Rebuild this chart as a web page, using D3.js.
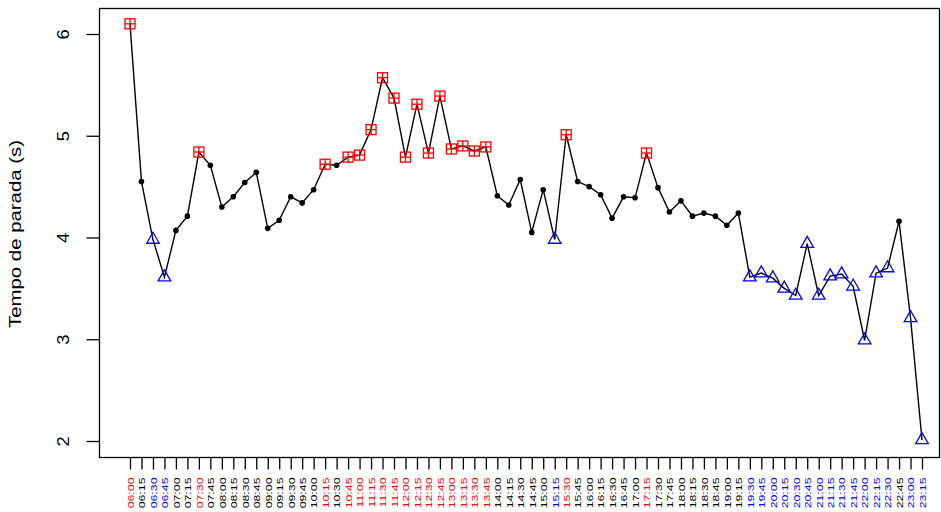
<!DOCTYPE html>
<html>
<head>
<meta charset="utf-8">
<script src="https://cdn.jsdelivr.net/npm/d3@7"></script>
<style>
  html, body { margin: 0; padding: 0; background: #fff; }
  svg { display: block; }
  text { font-family: "Liberation Sans", Arial, sans-serif; }
</style>
</head>
<body>
<svg id="chart" width="941" height="512"></svg>
<script>
// Time of day (every 15 minutes)
const times = [
  "06:00","06:15","06:30","06:45","07:00","07:15","07:30","07:45",
  "08:00","08:15","08:30","08:45","09:00","09:15","09:30","09:45",
  "10:00","10:15","10:30","10:45","11:00","11:15","11:30","11:45",
  "12:00","12:15","12:30","12:45","13:00","13:15","13:30","13:45",
  "14:00","14:15","14:30","14:45","15:00","15:15","15:30","15:45",
  "16:00","16:15","16:30","16:45","17:00","17:15","17:30","17:45",
  "18:00","18:15","18:30","18:45","19:00","19:15","19:30","19:45",
  "20:00","20:15","20:30","20:45","21:00","21:15","21:30","21:45",
  "22:00","22:15","22:30","22:45","23:00","23:15"
];

// Stop time (s) for each interval
const stopTime = [
  6.10, 4.55, 3.98, 3.61, 4.07, 4.21, 4.84, 4.71,
  4.30, 4.40, 4.54, 4.64, 4.09, 4.17, 4.40, 4.34,
  4.47, 4.72, 4.71, 4.79, 4.81, 5.06, 5.57, 5.37,
  4.79, 5.31, 4.83, 5.39, 4.87, 4.90, 4.85, 4.89,
  4.41, 4.32, 4.57, 4.05, 4.47, 3.98, 5.01, 4.55,
  4.50, 4.42, 4.19, 4.40, 4.39, 4.83, 4.49, 4.25,
  4.36, 4.21, 4.24, 4.21, 4.12, 4.24, 3.61, 3.65,
  3.60, 3.50, 3.43, 3.94, 3.43, 3.62, 3.64, 3.52,
  2.99, 3.65, 3.70, 4.16, 3.21, 2.01
];

// Classification of each interval: "H" high, "L" low, "N" normal
const level = [
  "H","N","L","L","N","N","H","N",
  "N","N","N","N","N","N","N","N",
  "N","H","N","H","H","H","H","H",
  "H","H","H","H","H","H","H","H",
  "N","N","N","N","N","L","H","N",
  "N","N","N","N","N","H","N","N",
  "N","N","N","N","N","N","L","L",
  "L","L","L","L","L","L","L","L",
  "L","L","L","N","L","L"
];

const yTicks = [2, 3, 4, 5, 6];
const yTitle = "Tempo de parada (s)";

const levelColor = { H: "#ff0000", L: "#0000ff", N: "#000000" };

const svg = d3.select("#chart");
const box = { left: 99.5, right: 939.5, top: 8.5, bottom: 457.5 };

const x = d3.scalePoint().domain(times).range([130, 922]);
const y = d3.scaleLinear().domain([2, 6]).range([441, 34]);

const data = times.map((t, i) => ({ t, v: stopTime[i], c: level[i] }));

// Plot frame
svg.append("rect")
  .attr("x", box.left).attr("y", box.top)
  .attr("width", box.right - box.left).attr("height", box.bottom - box.top)
  .attr("fill", "none").attr("stroke", "#000").attr("stroke-width", 1.3);

// Y axis
const yAxis = svg.append("g")
  .attr("transform", `translate(${box.left},0)`)
  .call(d3.axisLeft(y).tickValues(yTicks).tickSize(13).tickFormat(d3.format("d")));
yAxis.select(".domain").remove();
yAxis.selectAll("line").attr("stroke", "#000").attr("stroke-width", 1.3);
yAxis.selectAll("text")
  .attr("font-size", 16)
  .attr("fill", "#000")
  .attr("x", null).attr("dy", null)
  .attr("text-anchor", "middle")
  .attr("transform", "translate(-36,0) rotate(-90) scale(1.15,1)")
  .attr("dy", "0.35em");

// X axis
const xAxis = svg.append("g")
  .attr("transform", `translate(0,${box.bottom})`)
  .call(d3.axisBottom(x).tickSize(12).tickSizeOuter(0));
xAxis.select(".domain").remove();
xAxis.selectAll("line").attr("stroke", "#000").attr("stroke-width", 1.3);
xAxis.selectAll("text")
  .attr("font-size", 9.5)
  .attr("fill", (d, i) => levelColor[level[i]])
  .attr("y", null).attr("dy", null)
  .attr("text-anchor", "end")
  .attr("transform", "translate(0,20) rotate(-90) scale(1.3,1)")
  .attr("dy", "0.35em");

// Y axis title
svg.append("text")
  .attr("transform", "translate(15,234) rotate(-90) scale(1.2,1)")
  .attr("text-anchor", "middle")
  .attr("dy", "0.35em")
  .attr("font-size", 17)
  .attr("fill", "#000")
  .text(yTitle);

// Series line
svg.append("path")
  .datum(data)
  .attr("fill", "none")
  .attr("stroke", "#000")
  .attr("stroke-width", 1.4)
  .attr("d", d3.line().x(d => x(d.t)).y(d => y(d.v)));

// Markers
const marks = svg.append("g");
data.forEach(d => {
  const px = x(d.t), py = y(d.v);
  if (d.c === "N") {
    marks.append("circle")
      .attr("cx", px).attr("cy", py).attr("r", 2.8)
      .attr("fill", "#000");
  } else if (d.c === "H") {
    const s = 5;
    const g = marks.append("g").attr("transform", `translate(${px},${py})`)
      .attr("stroke", levelColor.H).attr("stroke-width", 1.3).attr("fill", "none");
    g.append("rect").attr("x", -s).attr("y", -s).attr("width", 2 * s).attr("height", 2 * s);
    g.append("line").attr("x1", -s).attr("x2", s).attr("y1", 0).attr("y2", 0);
    g.append("line").attr("x1", 0).attr("x2", 0).attr("y1", -s).attr("y2", s);
  } else {
    const r = 7.3, hw = 6.3, b = 3.7;
    marks.append("path")
      .attr("d", `M${px},${py - r}L${px + hw},${py + b}L${px - hw},${py + b}Z`)
      .attr("fill", "none")
      .attr("stroke", levelColor.L)
      .attr("stroke-width", 1.3);
  }
});
</script>
</body>
</html>
